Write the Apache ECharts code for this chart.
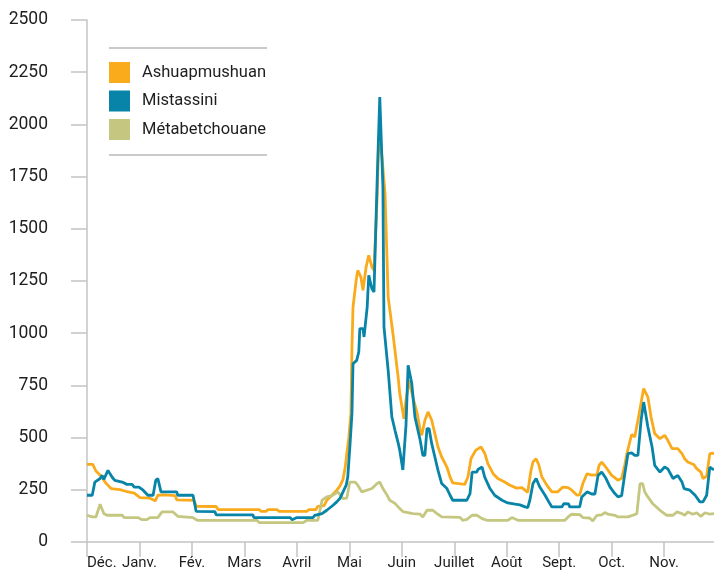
<!DOCTYPE html>
<html>
<head>
<meta charset="utf-8">
<script src="https://cdn.jsdelivr.net/npm/echarts@6/dist/echarts.min.js"></script>
<style>html,body{margin:0;padding:0;background:#fff}#c{width:714px;height:577px}</style>
</head>
<body>
<div id="c"></div>
<script>
// Month tick labels (x axis in months from 1 Dec)
var monthLabels = ['Déc.','Janv.','Fév.','Mars','Avril','Mai','Juin','Juillet','Août','Sept.','Oct.','Nov.'];
var seriesNames = ['Ashuapmushuan','Mistassini','Métabetchouane'];

// Ashuapmushuan (m³/s)
var ashuapX = [0,0.11,0.17,0.27,0.36,0.46,0.63,0.74,0.90,1.01,1.20,1.30,1.35,1.47,1.68,1.71,2.04,2.08,2.46,2.50,3.28,3.32,3.41,3.45,3.62,3.66,4.19,4.23,4.36,4.40,4.52,4.57,4.67,4.76,4.82,4.88,4.92,4.95,4.99,5.03,5.05,5.07,5.13,5.16,5.22,5.26,5.32,5.37,5.43,5.47,5.53,5.56,5.62,5.68,5.74,5.83,5.93,5.96,6.04,6.08,6.14,6.21,6.29,6.35,6.38,6.44,6.50,6.57,6.63,6.69,6.76,6.86,6.92,6.97,7.20,7.26,7.32,7.41,7.51,7.58,7.64,7.74,7.83,7.96,8.06,8.19,8.29,8.40,8.46,8.50,8.56,8.61,8.67,8.77,8.86,8.97,9.07,9.17,9.24,9.34,9.39,9.45,9.53,9.62,9.72,9.76,9.81,9.91,10.00,10.12,10.19,10.25,10.29,10.38,10.44,10.50,10.58,10.61,10.69,10.75,10.82,10.92,11.01,11.07,11.15,11.26,11.34,11.39,11.45,11.57,11.62,11.70,11.74,11.81,11.87,11.95];
var ashuapY = [372,372,340,315,282,256,251,243,234,213,210,197,224,226,222,202,200,171,170,155,155,147,147,155,155,147,147,155,155,171,174,200,224,248,268,300,355,420,500,616,934,1125,1253,1301,1269,1205,1317,1373,1317,1300,1650,1930,1850,1669,1173,1000,790,712,590,680,775,694,620,535,511,583,623,583,519,455,407,359,311,283,276,311,400,440,455,425,375,327,304,287,272,258,260,238,340,383,399,370,311,270,240,240,263,260,248,224,226,280,327,320,322,367,383,351,319,296,305,370,423,515,503,583,694,735,694,599,519,495,511,487,447,447,423,399,383,370,351,335,304,315,423,425];

// Mistassini (m³/s)
var mistaX = [0,0.10,0.15,0.25,0.29,0.32,0.40,0.48,0.53,0.67,0.76,0.86,0.90,0.99,1.07,1.16,1.26,1.31,1.35,1.41,1.71,1.73,2.02,2.08,2.44,2.46,3.16,3.18,3.87,3.91,4.00,4.31,4.34,4.48,4.57,4.69,4.76,4.82,4.88,4.94,4.97,5.01,5.05,5.07,5.14,5.18,5.20,5.26,5.28,5.34,5.37,5.43,5.47,5.53,5.58,5.64,5.66,5.74,5.81,5.87,5.93,5.96,6.02,6.08,6.12,6.19,6.25,6.35,6.40,6.44,6.48,6.52,6.57,6.63,6.69,6.76,6.86,6.92,6.97,7.24,7.30,7.34,7.43,7.45,7.53,7.58,7.68,7.77,7.91,8.02,8.16,8.25,8.35,8.40,8.44,8.50,8.56,8.63,8.73,8.82,8.86,9.05,9.09,9.18,9.20,9.39,9.43,9.53,9.62,9.68,9.74,9.81,9.89,9.97,10.06,10.12,10.19,10.25,10.31,10.38,10.44,10.50,10.56,10.61,10.69,10.77,10.82,10.92,11.01,11.07,11.17,11.26,11.34,11.38,11.49,11.59,11.68,11.74,11.81,11.87,11.95];
var mistaY = [224,224,287,304,319,300,343,310,295,287,276,276,263,263,248,224,224,295,304,240,240,224,224,147,145,130,130,117,117,107,117,117,128,136,152,176,192,208,240,272,311,455,616,854,870,910,1022,1022,982,1125,1277,1213,1197,1732,2131,1700,1030,822,599,535,475,440,345,560,846,759,599,487,415,415,543,543,471,407,343,280,256,224,200,200,232,335,335,347,359,311,256,224,200,187,181,178,168,165,200,280,304,263,224,184,168,168,184,182,168,168,216,240,230,230,319,335,305,263,232,216,222,327,423,427,415,415,583,670,551,455,367,335,359,350,304,319,287,256,248,224,192,192,224,359,345];

// Métabetchouane (m³/s)
var metabX = [0,0.10,0.17,0.25,0.32,0.38,0.67,0.71,0.97,1.05,1.14,1.20,1.35,1.43,1.64,1.73,2.02,2.10,3.24,3.28,4.12,4.19,4.40,4.48,4.57,4.69,4.78,4.88,4.95,5.01,5.11,5.16,5.24,5.43,5.53,5.58,5.64,5.72,5.77,5.87,5.96,6.02,6.21,6.35,6.40,6.48,6.59,6.67,6.76,7.11,7.16,7.24,7.34,7.43,7.53,7.62,8.02,8.10,8.21,9.11,9.17,9.24,9.39,9.45,9.58,9.64,9.72,9.81,9.87,9.93,10.06,10.12,10.31,10.38,10.48,10.54,10.59,10.63,10.69,10.78,10.92,11.05,11.17,11.24,11.34,11.39,11.45,11.55,11.62,11.70,11.78,11.87,11.95];
var metabY = [128,120,120,181,136,128,128,117,117,107,107,117,117,144,144,123,117,104,104,93,93,104,104,200,216,224,240,208,210,287,287,272,240,256,280,287,256,224,200,185,160,146,136,133,120,152,152,136,120,118,104,108,128,128,112,104,104,117,104,104,120,133,131,117,115,101,128,130,141,133,128,120,120,126,136,280,280,240,216,184,152,128,128,144,136,128,144,133,140,123,140,133,136];

var colors = ['#F9AB1B','#0784A8','#C5C781'];
var FONT = 'Roboto, "Noto Sans", sans-serif';

function zip(xs, ys){ var out=[]; for (var i=0;i<xs.length;i++) out.push([xs[i], ys[i]]); return out; }
var seriesData = [zip(ashuapX, ashuapY), zip(mistaX, mistaY), zip(metabX, metabY)];

var chart = echarts.init(document.getElementById('c'), null, {renderer:'canvas'});
var axisGrey = '#c4c4c4';
chart.setOption({
  animation: false,
  color: colors,
  grid: {left: 87, right: 0, top: 20, bottom: 35, containLabel: false, outerBoundsMode: 'none'},
  legend: {
    orient: 'vertical', left: 109, top: 62, padding: 0,
    itemWidth: 21, itemHeight: 21, itemGap: 7.5,
    icon: 'rect',
    data: seriesNames,
    textStyle: {fontFamily: FONT, fontSize: 16.5, color: '#1e1e1e', padding: [0,0,0,7]},
    selectedMode: false
  },
  graphic: [
    {type:'line', shape:{x1:109,y1:48,x2:267,y2:48}, style:{stroke:'#b8b8b8', lineWidth:1.5}},
    {type:'line', shape:{x1:109,y1:155,x2:267,y2:155}, style:{stroke:'#b8b8b8', lineWidth:1.5}}
  ],
  xAxis: {
    type: 'value', min: 0, max: 11.95, interval: 1,
    axisLine: {show: true, lineStyle: {color: axisGrey, width: 1.5}},
    axisTick: {show: true, length: 15, lineStyle: {color: axisGrey, width: 1.5}},
    splitLine: {show: false},
    axisLabel: {
      margin: 14, fontFamily: FONT, fontSize: 15, color: '#1e1e1e',
      alignMinLabel: 'left', showMinLabel: true, showMaxLabel: false, hideOverlap: false,
      formatter: function(v){ return (Math.abs(v - Math.round(v)) < 1e-6 && monthLabels[Math.round(v)]) ? monthLabels[Math.round(v)] : ''; }
    }
  },
  yAxis: {
    type: 'value', min: 0, max: 2500, interval: 250,
    axisLine: {show: true, lineStyle: {color: axisGrey, width: 1.5}},
    axisTick: {show: true, length: 16, lineStyle: {color: axisGrey, width: 1.5}},
    splitLine: {show: false},
    axisLabel: {margin: 39, fontFamily: FONT, fontSize: 17.5, color: '#1e1e1e', formatter: function(v){ return String(v); }}
  },
  series: seriesNames.map(function(n, i){
    return {
      name: n, type: 'line', data: seriesData[i], showSymbol: false, symbol: 'none',
      lineStyle: {width: 2.8, color: colors[i]}, itemStyle: {color: colors[i]},
      emphasis: {disabled: true}, z: [2,3,2][i]
    };
  })
});
</script>
</body>
</html>
